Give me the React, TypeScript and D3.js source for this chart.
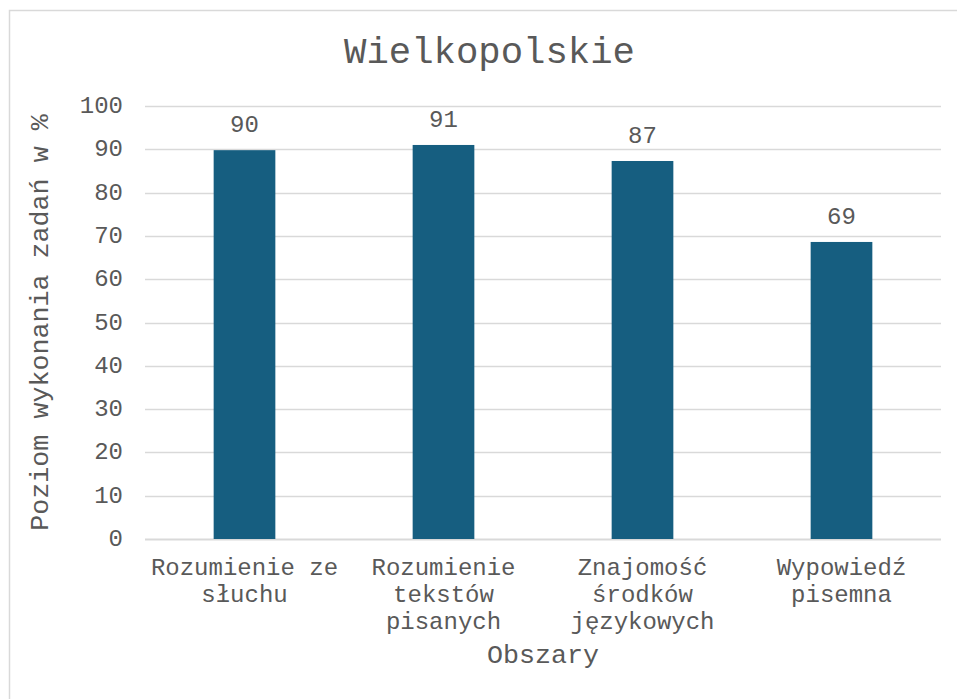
import React, { useRef, useEffect } from 'react';
import * as d3 from 'd3';

// data
const categories = ['Rozumienie ze słuchu', 'Rozumienie tekstów pisanych', 'Znajomość środków językowych', 'Wypowiedź pisemna'];
const categoryLines = [
    ['Rozumienie ze', 'słuchu'],
    ['Rozumienie', 'tekstów', 'pisanych'],
    ['Znajomość', 'środków', 'językowych'],
    ['Wypowiedź', 'pisemna'],
];
const values = [89.8, 91.0, 87.3, 68.6];
const yTicks = [0, 10, 20, 30, 40, 50, 60, 70, 80, 90, 100];

const chartTitle = 'Wielkopolskie';
const xTitle = 'Obszary';
const yTitle = 'Poziom wykonania zadań w %';

const App = () => {
    const svgRef = useRef(null);

    const totalWidth = 957;
    const totalHeight = 699;
    const margin = { top: 106, right: 16, bottom: 160, left: 145 };
    const width = totalWidth - margin.left - margin.right;
    const height = totalHeight - margin.top - margin.bottom;

    const textColor = '#595959';
    const gridColor = '#d9d9d9';
    const barColor = '#165e80';
    const font = '"Liberation Mono", "DejaVu Sans Mono", monospace';

    useEffect(() => {
        document.body.style.margin = '0';

        const svg = d3.select(svgRef.current);
        svg.selectAll('*').remove();

        svg.append('rect')
            .attr('x', 0).attr('y', 0)
            .attr('width', totalWidth).attr('height', totalHeight)
            .attr('fill', 'white');

        // outer chart frame, runs off the right and bottom edges
        svg.append('rect')
            .attr('x', 9.5).attr('y', 10.5)
            .attr('width', totalWidth + 20).attr('height', totalHeight + 20)
            .attr('fill', 'none')
            .attr('stroke', gridColor)
            .attr('stroke-width', 1.5);

        const g = svg.append('g')
            .attr('transform', `translate(${margin.left}, ${margin.top})`);

        const xScale = d3.scaleBand()
            .domain(categories)
            .range([0, width])
            .padding(0);

        const yScale = d3.scaleLinear()
            .domain([0, 100])
            .range([height, 0]);

        const barWidth = xScale.bandwidth() * 0.31;

        // gridlines
        g.selectAll('.grid')
            .data(yTicks)
            .enter()
            .append('line')
            .attr('class', 'grid')
            .attr('x1', 0)
            .attr('x2', width)
            .attr('y1', d => Math.round(yScale(d)) + 0.5)
            .attr('y2', d => Math.round(yScale(d)) + 0.5)
            .attr('stroke', gridColor)
            .attr('stroke-width', d => d === 0 ? 2 : 1.5);

        // y tick labels
        g.selectAll('.ytick')
            .data(yTicks)
            .enter()
            .append('text')
            .attr('class', 'ytick')
            .attr('x', -22)
            .attr('y', d => yScale(d) + 7)
            .attr('text-anchor', 'end')
            .style('font-family', font)
            .style('font-size', '24px')
            .style('fill', textColor)
            .text(d => d);

        // bars
        g.selectAll('.bar')
            .data(values)
            .enter()
            .append('rect')
            .attr('class', 'bar')
            .attr('x', (d, i) => xScale(categories[i]) + xScale.bandwidth() / 2 - barWidth / 2)
            .attr('y', d => yScale(d))
            .attr('width', barWidth)
            .attr('height', d => height - yScale(d))
            .attr('fill', barColor);

        // value labels
        g.selectAll('.bar-label')
            .data(values)
            .enter()
            .append('text')
            .attr('class', 'bar-label')
            .attr('x', (d, i) => xScale(categories[i]) + xScale.bandwidth() / 2)
            .attr('y', d => yScale(d) - 18)
            .attr('text-anchor', 'middle')
            .style('font-family', font)
            .style('font-size', '24px')
            .style('fill', textColor)
            .text(d => Math.round(d));

        // category labels
        const catLabel = g.selectAll('.cat-label')
            .data(categoryLines)
            .enter()
            .append('text')
            .attr('class', 'cat-label')
            .attr('text-anchor', 'middle')
            .style('font-family', font)
            .style('font-size', '24px')
            .style('fill', textColor);

        catLabel.selectAll('tspan')
            .data((lines, i) => lines.map(line => ({ line, i })))
            .enter()
            .append('tspan')
            .attr('x', d => xScale(categories[d.i]) + xScale.bandwidth() / 2)
            .attr('y', (d, j) => height + 36 + j * 27)
            .text(d => d.line);

        // axis titles
        svg.append('text')
            .attr('x', margin.left + width / 2)
            .attr('y', 663)
            .attr('text-anchor', 'middle')
            .style('font-family', font)
            .style('font-size', '26.7px')
            .style('fill', textColor)
            .text(xTitle);

        svg.append('text')
            .attr('transform', `translate(48, ${margin.top + height / 2}) rotate(-90)`)
            .attr('text-anchor', 'middle')
            .style('font-family', font)
            .style('font-size', '26.7px')
            .style('fill', textColor)
            .text(yTitle);

        svg.append('text')
            .attr('x', 489.5)
            .attr('y', 63)
            .attr('text-anchor', 'middle')
            .style('font-family', font)
            .style('font-size', '37.3px')
            .style('fill', textColor)
            .text(chartTitle);
    }, []);

    return (
        <svg
            ref={svgRef}
            width={totalWidth}
            height={totalHeight}
            style={{ display: 'block' }}
        ></svg>
    );
};

export default App;
